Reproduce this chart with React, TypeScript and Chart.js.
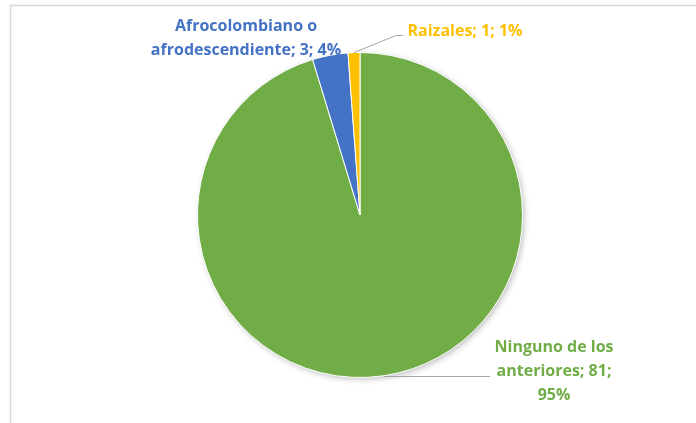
import React, { useEffect, useRef } from "react";
import { Chart, registerables } from "chart.js";

Chart.register(...registerables);

const categories = ["Ninguno de los anteriores", "Afrocolombiano o afrodescendiente", "Raizales"];
const values = [81, 3, 1];
const percents = ["95%", "4%", "1%"];
const colors = ["#70AD47", "#4472C4", "#FFC000"];
const labelLines = [
  ["Ninguno de los", "anteriores; 81;", "95%"],
  ["Afrocolombiano o", "afrodescendiente; 3; 4%"],
  ["Raizales; 1; 1%"],
];

const FONT = "bold 16px 'Open Sans', 'Noto Sans', sans-serif";

const framePlugin = {
  id: "frame",
  beforeDraw(chart: any) {
    const ctx = chart.ctx;
    ctx.save();
    ctx.strokeStyle = "#D9D9D9";
    ctx.lineWidth = 1.5;
    ctx.beginPath();
    ctx.moveTo(10.5, 423);
    ctx.lineTo(10.5, 5.5);
    ctx.lineTo(696, 5.5);
    ctx.stroke();
    ctx.restore();
  },
  beforeDatasetsDraw(chart: any) {
    const ctx = chart.ctx;
    const a = chart.getDatasetMeta(0).data[0];
    if (!a) return;
    ctx.save();
    ctx.shadowColor = "rgba(0,0,0,0.28)";
    ctx.shadowBlur = 6;
    ctx.shadowOffsetX = 2;
    ctx.shadowOffsetY = 2;
    ctx.fillStyle = colors[0];
    ctx.beginPath();
    ctx.arc(a.x, a.y, a.outerRadius - 0.5, 0, Math.PI * 2);
    ctx.fill();
    ctx.restore();
  },
};

const labelPlugin = {
  id: "pieLabels",
  afterDraw(chart: any) {
    const ctx = chart.ctx;
    const meta = chart.getDatasetMeta(0);
    const arcs = meta.data;
    ctx.save();
    ctx.strokeStyle = "#A6A6A6";
    ctx.lineWidth = 1;
    const pt = (arc: any, ang: number, r: number) => [arc.x + Math.cos(ang) * r, arc.y + Math.sin(ang) * r];
    {
      const a = arcs[0];
      const mid = (a.startAngle + a.endAngle) / 2;
      const [x, y] = pt(a, mid, a.outerRadius);
      ctx.beginPath();
      ctx.moveTo(x, Math.round(y) + 0.5);
      ctx.lineTo(490, Math.round(y) + 0.5);
      ctx.stroke();
    }
    {
      const a = arcs[2];
      const mid = (a.startAngle + a.endAngle) / 2;
      const [x, y] = pt(a, mid, a.outerRadius);
      ctx.beginPath();
      ctx.moveTo(x, y);
      ctx.lineTo(396, 35.5);
      ctx.lineTo(403, 35.5);
      ctx.stroke();
    }
    ctx.font = FONT;
    ctx.textAlign = "center";
    ctx.textBaseline = "middle";
    const pos = [
      [554, 347],
      [246, 26],
      [465, 31],
    ];
    const lh = 24;
    labelLines.forEach((lines, i) => {
      ctx.fillStyle = colors[i];
      lines.forEach((t, j) => {
        ctx.fillText(t, pos[i][0], pos[i][1] + j * lh);
      });
    });
    ctx.restore();
  },
};

export default function App() {
  const ref = useRef<HTMLCanvasElement>(null);
  useEffect(() => {
    document.body.style.margin = "0";
    const chart = new Chart(ref.current!, {
      type: "pie",
      data: {
        labels: categories,
        datasets: [
          {
            data: values,
            backgroundColor: colors,
            borderColor: "#FFFFFF",
            borderWidth: 1,
          },
        ],
      },
      options: {
        responsive: false,
        animation: false,
        layout: { padding: { top: 52, bottom: 45, left: 24, right: 0 } },
        plugins: { legend: { display: false }, tooltip: { enabled: false } },
      },
      plugins: [framePlugin, labelPlugin],
    });
    return () => chart.destroy();
  }, []);
  return (
    <div style={{ position: "fixed", left: 0, top: 0, width: 696, height: 423, background: "#fff" }}>
      <canvas ref={ref} width={696} height={423} />
    </div>
  );
}
